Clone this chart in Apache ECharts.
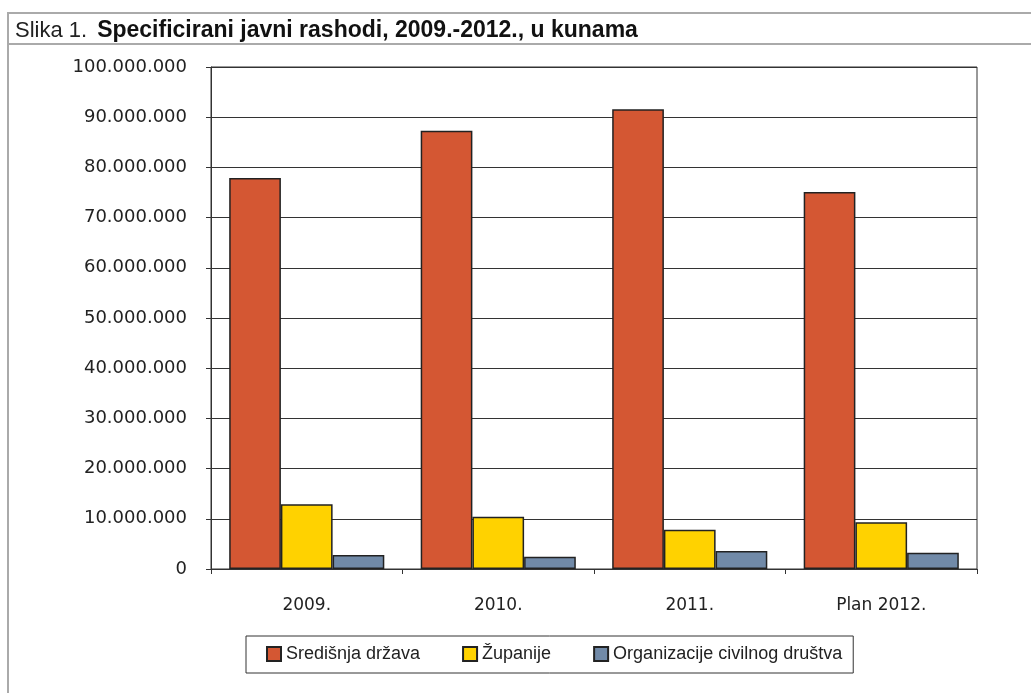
<!DOCTYPE html>
<html><head><meta charset="utf-8">
<script src="https://cdn.jsdelivr.net/npm/echarts@6/dist/echarts.min.js"></script>
<style>html,body{margin:0;padding:0;background:#fff}#c{width:1031px;height:693px}</style>
</head><body><div id="c"></div>
<script>
const categories = ['2009.', '2010.', '2011.', 'Plan 2012.'];
const seriesNames = ['Središnja država', 'Županije', 'Organizacije civilnog društva'];
const sredisnjaDrzava = [77900000, 87300000, 91600000, 75100000];
const zupanije = [12900000, 10400000, 7800000, 9300000];
const organizacije = [2800000, 2450000, 3600000, 3250000];
const yTicks = [0, 10000000, 20000000, 30000000, 40000000, 50000000, 60000000, 70000000, 80000000, 90000000, 100000000];

const colors = ['#D45733', '#FFD200', '#718AA8'];
const font = 'Liberation Sans, Arial, sans-serif';
const axisFont = 'DejaVu Sans, sans-serif';
function fmt(v){ return String(v).replace(/\B(?=(\d{3})+(?!\d))/g, '.'); }

const chart = echarts.init(document.getElementById('c'), null, {renderer:'canvas'});
const data = [sredisnjaDrzava, zupanije, organizacije];
chart.setOption({
  animation: false,
  backgroundColor: '#fff',
  title: {
    left: 15, top: 19, padding: 0,
    text: '{a|Slika 1.}  {b|Specificirani javni rashodi, 2009.-2012., u kunama}',
    textStyle: {
      rich: {
        a: {fontFamily: font, fontSize: 22, fontWeight: 'normal', color: '#222', lineHeight: 24},
        b: {fontFamily: font, fontSize: 23, fontWeight: 'bold', color: '#111', lineHeight: 24}
      }
    }
  },
  graphic: [
    {type: 'line', shape: {x1: 7, y1: 13, x2: 1031, y2: 13}, style: {stroke: '#aaa', lineWidth: 2}},
    {type: 'line', shape: {x1: 7, y1: 44, x2: 1031, y2: 44}, style: {stroke: '#aaa', lineWidth: 2}},
    {type: 'line', shape: {x1: 8, y1: 12, x2: 8, y2: 693}, style: {stroke: '#aaa', lineWidth: 2}}
  ],
  grid: {left: 211, right: 54, top: 67, bottom: 124, show: true, borderColor: '#333', borderWidth: 1},
  legend: {
    data: seriesNames,
    top: 636, left: 246,
    itemWidth: 14, itemHeight: 14, itemGap: 42,
    padding: [8, 11, 9, 20],
    borderColor: '#333', borderWidth: 1,
    textStyle: {fontFamily: font, fontSize: 18, color: '#222', lineHeight: 20},
    icon: 'rect'
  },
  xAxis: {
    type: 'category', data: categories,
    axisLine: {lineStyle: {color: '#333'}},
    axisTick: {show: true, length: 5, lineStyle: {color: '#333'}},
    axisLabel: {fontFamily: axisFont, fontSize: 17, color: '#222', margin: 28}
  },
  yAxis: {
    type: 'value', min: yTicks[0], max: yTicks[yTicks.length-1], interval: yTicks[1]-yTicks[0],
    axisLine: {show: true, lineStyle: {color: '#333'}},
    axisTick: {show: true, length: 5, lineStyle: {color: '#333'}},
    splitLine: {lineStyle: {color: '#333', width: 1}},
    axisLabel: {fontFamily: axisFont, fontSize: 18, color: '#222', margin: 24, formatter: fmt}
  },
  series: data.map((d, i) => ({
    name: seriesNames[i], type: 'bar', data: d,
    barGap: '0%', barCategoryGap: '19%',
    itemStyle: {color: colors[i], borderColor: '#222', borderWidth: 1.5}
  }))
});
</script></body></html>
